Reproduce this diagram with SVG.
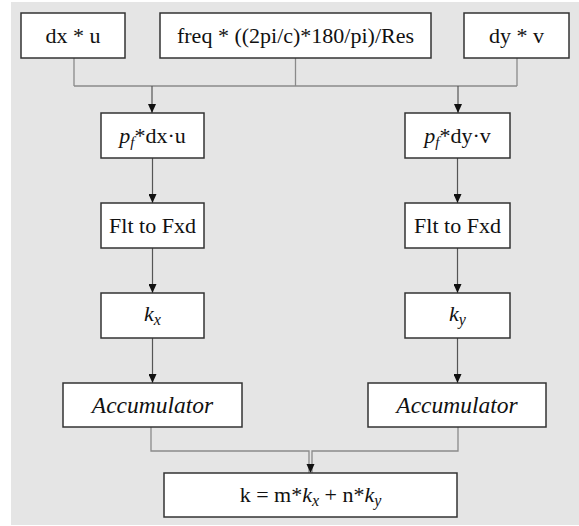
<svg xmlns="http://www.w3.org/2000/svg" width="579" height="526" viewBox="0 0 579 526">
<style>
.box{fill:#fff;stroke:#333;stroke-width:1.5}
text{font-family:'Liberation Serif','DejaVu Serif','Times New Roman',serif;font-size:22px;fill:#111;text-anchor:middle}
text.i{font-style:italic;font-size:23.5px}
.m{font-style:italic}
.lc{fill:none;stroke:#8a8a8a;stroke-width:1.3}
.la{fill:none;stroke:#555;stroke-width:1.2}
.ah{fill:#111;stroke:none}
</style>
<defs>
<marker id="ad" markerWidth="8" markerHeight="9" refX="4" refY="9" markerUnits="userSpaceOnUse" viewBox="0 0 8 9" orient="0">
<path d="M0,0 L8,0 L4,9 Z" fill="#111"/>
</marker>
</defs>
<rect x="11" y="2" width="568" height="523" fill="#e5e5e5"/>
<g id="connectors">
<path class="lc" d="M74,58 V86 M295.5,58 V86 M517,58 V86 M74,86 H517"/>
<path class="la" d="M152,86 V113" marker-end="url(#ad)"/>
<path class="la" d="M458,86 V113" marker-end="url(#ad)"/>
<path class="la" d="M152.5,158 V203" marker-end="url(#ad)"/>
<path class="la" d="M457.5,158 V203" marker-end="url(#ad)"/>
<path class="la" d="M152.5,248 V293" marker-end="url(#ad)"/>
<path class="la" d="M457.5,248 V293" marker-end="url(#ad)"/>
<path class="la" d="M152.5,338 V383" marker-end="url(#ad)"/>
<path class="la" d="M457.5,338 V383" marker-end="url(#ad)"/>
<path class="lc" d="M151,427 V451 H309 V473 M458,427 V451 H312 V473"/>
<path class="ah" d="M306.5,464 H314.5 L310.5,473 Z"/>
</g>
<g id="n_dxu"><rect class="box" x="21" y="13" width="104" height="45"/><text x="73" y="43">dx * u</text></g>
<g id="n_freq"><rect class="box" x="160" y="13" width="271" height="45"/><text x="295.5" y="43">freq * ((2pi/c)*180/pi)/Res</text></g>
<g id="n_dyv"><rect class="box" x="464" y="13" width="105" height="45"/><text x="516.5" y="43">dy * v</text></g>
<g id="n_pfx"><rect class="box" x="101" y="113" width="103" height="45"/><text x="152.5" y="143"><tspan class="m">p</tspan><tspan class="m" font-size="15" dy="4">f</tspan><tspan dy="-4">*dx·u</tspan></text></g>
<g id="n_pfy"><rect class="box" x="405" y="113" width="105" height="45"/><text x="457.5" y="143"><tspan class="m">p</tspan><tspan class="m" font-size="15" dy="4">f</tspan><tspan dy="-4">*dy·v</tspan></text></g>
<g id="n_flx"><rect class="box" x="101" y="203" width="103" height="45"/><text x="152.5" y="233">Flt to Fxd</text></g>
<g id="n_fly"><rect class="box" x="405" y="203" width="105" height="45"/><text x="457.5" y="233">Flt to Fxd</text></g>
<g id="n_kx"><rect class="box" x="101" y="293" width="103" height="45"/><text x="152.5" y="321"><tspan class="m">k</tspan><tspan class="m" font-size="16" dy="4">x</tspan></text></g>
<g id="n_ky"><rect class="box" x="405" y="293" width="105" height="45"/><text x="457.5" y="321"><tspan class="m">k</tspan><tspan class="m" font-size="16" dy="4">y</tspan></text></g>
<g id="n_accx"><rect class="box" x="63" y="383" width="179" height="44"/><text class="i" x="152.5" y="413">Accumulator</text></g>
<g id="n_accy"><rect class="box" x="368" y="383" width="178" height="44"/><text class="i" x="457" y="413">Accumulator</text></g>
<g id="n_k"><rect class="box" x="164" y="473" width="293" height="44"/><text x="310.5" y="502">k = m*<tspan class="m">k</tspan><tspan class="m" font-size="16" dy="4">x</tspan><tspan dy="-4"> + n*</tspan><tspan class="m">k</tspan><tspan class="m" font-size="16" dy="4">y</tspan></text></g>
</svg>
